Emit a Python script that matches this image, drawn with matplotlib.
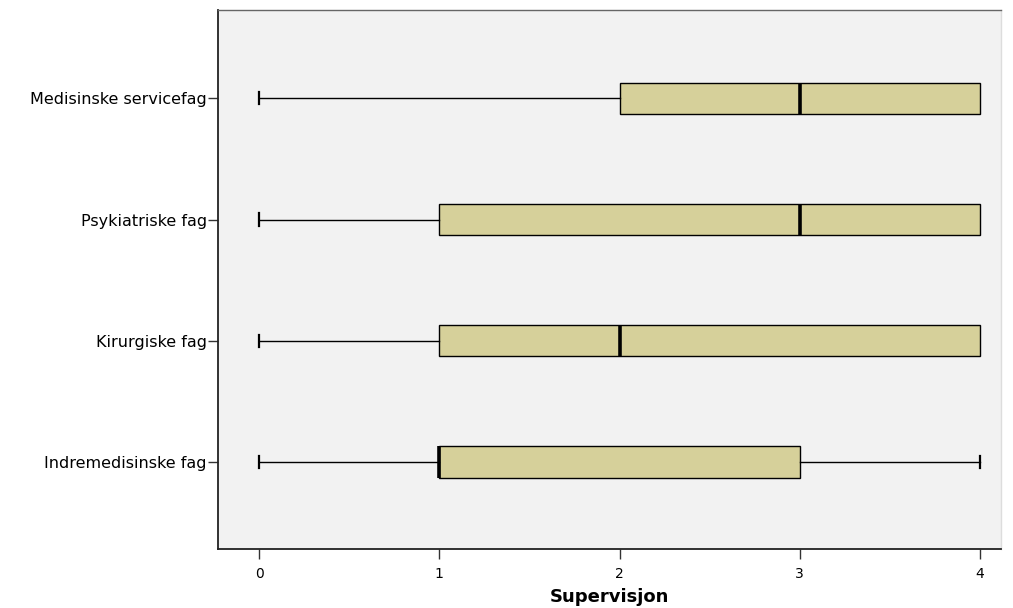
import matplotlib
matplotlib.use("Agg")
import matplotlib.pyplot as plt

# Five-number summaries per speciality group (bottom to top)
categories = ["Indremedisinske fag", "Kirurgiske fag", "Psykiatriske fag", "Medisinske servicefag"]
whisker_low = [0, 0, 0, 0]
q1 = [1, 1, 1, 2]
median = [1, 2, 3, 3]
q3 = [3, 4, 4, 4]
whisker_high = [4, 4, 4, 4]
x_ticks = [0, 1, 2, 3, 4]
x_label = "Supervisjon"

box_color = "#d6d09a"
panel_color = "#f2f2f2"

fig = plt.figure(figsize=(10.13, 6.08), dpi=100)
ax = fig.add_axes([218 / 1013, 1 - 549 / 608, (1001 - 218) / 1013, (549 - 10) / 608])
ax.set_facecolor(panel_color)

stats = []
for i, name in enumerate(categories):
    stats.append(dict(label=name, whislo=whisker_low[i], q1=q1[i], med=median[i],
                      q3=q3[i], whishi=whisker_high[i], fliers=[]))

positions = list(range(len(categories)))
parts = ax.bxp(stats, positions=positions, vert=False, widths=0.26, patch_artist=True,
               showfliers=False,
               boxprops=dict(facecolor=box_color, edgecolor="black", linewidth=1.0),
               medianprops=dict(color="black", linewidth=2.6),
               whiskerprops=dict(color="black", linewidth=1.0),
               capprops=dict(color="black", linewidth=1.6), capwidths=0.1)

# A whisker of zero length gets no end cap
for i in range(len(categories)):
    if whisker_low[i] == q1[i]:
        parts["caps"][2 * i].set_visible(False)
    if whisker_high[i] == q3[i]:
        parts["caps"][2 * i + 1].set_visible(False)

ax.set_xlim(-0.228, 4.117)
ax.set_ylim(-0.72, 3.73)
ax.set_xticks(x_ticks)
ax.set_xticklabels([str(t) for t in x_ticks], fontsize=10)
ax.set_yticks(positions)
ax.set_yticklabels(categories, fontsize=11.5)
ax.tick_params(axis="both", direction="out", length=7, width=1, color="#333333")
ax.tick_params(axis="x", pad=6)
ax.tick_params(axis="y", pad=1)

for side in ["left", "bottom"]:
    ax.spines[side].set_color("#222222")
    ax.spines[side].set_linewidth(1.3)
ax.spines["top"].set_color("#666666")
ax.spines["top"].set_linewidth(1.0)
ax.spines["right"].set_color("#dddddd")
ax.spines["right"].set_linewidth(1.0)

ax.set_xlabel(x_label, fontsize=13, fontweight="bold", labelpad=5)

fig.savefig("out.png", dpi=100, facecolor="white")
